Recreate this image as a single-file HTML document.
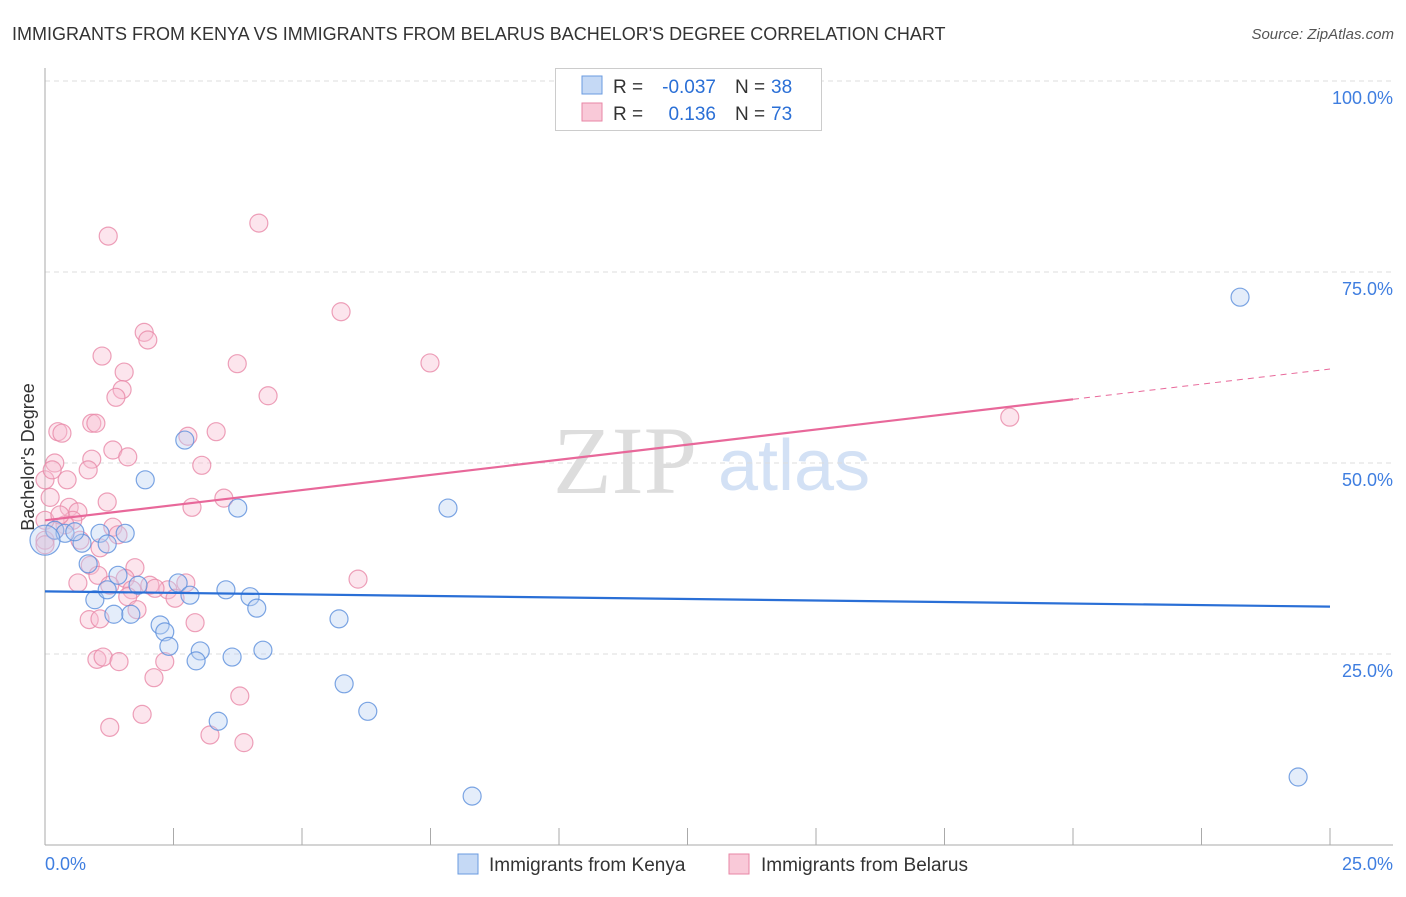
<!DOCTYPE html>
<html><head><meta charset="utf-8"><style>
body{margin:0;background:#fff;font-family:"Liberation Sans",sans-serif}
svg text{font-family:"Liberation Sans",sans-serif}
</style></head><body>
<svg id="c" width="1406" height="892">
<text x="12" y="40" font-size="18" fill="#333">IMMIGRANTS FROM KENYA VS IMMIGRANTS FROM BELARUS BACHELOR'S DEGREE CORRELATION CHART</text>
<text x="1394" y="39" font-size="15" fill="#555" font-style="italic" text-anchor="end">Source: ZipAtlas.com</text>
<g>
<text x="553" y="493" font-size="96" fill="#ddd" font-family="Liberation Serif" style="font-family:'Liberation Serif',serif">ZIP</text>
<text x="718" y="490" font-size="72" fill="#d3e1f5">atlas</text>
</g>
<g id="grid"></g>
<g id="axes"></g>
<g id="pts"></g>
<g id="lines"></g>
<text transform="translate(34,457) rotate(-90)" font-size="18" fill="#333" text-anchor="middle">Bachelor's Degree</text>
<g>
<rect x="555.5" y="68.5" width="266" height="62" fill="#fff" stroke="#ccc"/>
<rect x="582" y="76" width="20" height="18" fill="#c5d9f5" stroke="#6a9be0"/>
<rect x="582" y="103" width="20" height="18" fill="#f9c9d8" stroke="#e886a6"/>
<text x="613" y="93" font-size="19" fill="#333">R =</text>
<text x="716" y="93" font-size="19" fill="#2a6fd6" text-anchor="end">-0.037</text>
<text x="735" y="93" font-size="19" fill="#333">N =</text>
<text x="771" y="93" font-size="19" fill="#2a6fd6">38</text>
<text x="613" y="120" font-size="19" fill="#333">R =</text>
<text x="716" y="120" font-size="19" fill="#2a6fd6" text-anchor="end">0.136</text>
<text x="735" y="120" font-size="19" fill="#333">N =</text>
<text x="771" y="120" font-size="19" fill="#2a6fd6">73</text>
</g>
<g>
<rect x="458" y="854" width="20" height="20" fill="#c5d9f5" stroke="#6a9be0"/>
<text x="489" y="871" font-size="19" fill="#333">Immigrants from Kenya</text>
<rect x="729" y="854" width="20" height="20" fill="#f9c9d8" stroke="#e886a6"/>
<text x="761" y="871" font-size="19" fill="#333">Immigrants from Belarus</text>
</g>
</svg>
<script>
const xTickLabels=["0.0%","25.0%"];
const yTicks=[25,50,75,100];
const yTickLabels=["25.0%","50.0%","75.0%","100.0%"];
const kenyaX=[23.25,24.38,8.31,7.84,2.72,1.95,3.75,0.19,0.39,0.72,1.07,1.56,1.21,0.84,1.42,0.97,1.21,1.81,1.34,1.67,2.24,2.33,2.41,2.59,2.82,3.52,3.99,4.12,3.02,2.94,3.64,4.24,5.72,5.82,6.28,3.37,0.0,0.58];
const kenyaY=[71.7,8.9,6.4,44.1,53.0,47.8,44.1,41.2,40.8,39.5,40.8,40.8,39.4,36.8,35.3,32.1,33.4,34.0,30.2,30.2,28.8,27.9,26.0,34.3,32.7,33.4,32.5,31.0,25.4,24.1,24.6,25.5,29.6,21.1,17.5,16.2,39.9,41.0];
const belarusX=[1.23,4.16,5.76,7.49,3.74,1.93,2.00,1.11,1.54,1.50,1.38,4.34,18.77,0.25,0.33,0.91,0.99,3.33,2.78,1.32,1.61,0.91,3.05,0.19,0.84,0.43,0.10,1.21,3.48,2.86,0.47,0.64,0.54,0.39,1.32,1.42,0.19,0.0,1.07,0.88,1.75,1.56,0.64,1.03,2.04,2.39,2.74,1.69,2.14,1.61,2.53,1.79,0.86,1.07,2.92,6.09,1.01,1.13,1.44,2.33,2.12,3.79,1.89,1.26,3.21,3.87,0.0,0.0,0.14,0.68,1.26,0.0,0.29];
const belarusY=[79.7,81.4,69.8,63.1,63.0,67.1,66.1,64.0,61.9,59.6,58.6,58.8,56.0,54.1,53.9,55.2,55.2,54.1,53.5,51.7,50.8,50.5,49.7,50.0,49.1,47.8,45.5,44.9,45.4,44.2,44.2,43.6,42.5,41.9,41.6,40.6,41.2,39.9,38.9,36.6,36.3,34.9,34.3,35.3,34.0,33.4,34.3,33.4,33.6,32.5,32.3,30.8,29.5,29.6,29.1,34.8,24.3,24.6,24.0,24.0,21.9,19.5,17.1,15.4,14.4,13.4,42.5,47.8,49.1,39.9,34.0,39.3,43.2];
const kenyaTrend=[33.2,31.2];
const belarusTrend=[42.5,62.3];
const belarusSolidEnd=20;
const X0=45,X1=1330,Y0=845,Y100=81;
const sx=v=>X0+(v/25)*(X1-X0);
const sy=v=>Y0-(v/100)*(Y0-Y100);
const NS="http://www.w3.org/2000/svg";
function mk(t,a,p){const e=document.createElementNS(NS,t);for(const k in a)e.setAttribute(k,a[k]);p.appendChild(e);return e;}
const grid=document.getElementById('grid'),axes=document.getElementById('axes'),pts=document.getElementById('pts'),lines=document.getElementById('lines');
yTicks.forEach((t,i)=>{
 const g=mk('line',{x1:X0,x2:1393,y1:sy(t),y2:sy(t),stroke:'#ddd','stroke-dasharray':'5,4'},grid);
 
 
 const l=mk('text',{x:1393,y:sy(t)+23,'font-size':18,fill:'#3f7ee0','text-anchor':'end'},axes);
 l.textContent=yTickLabels[i];
 
 
});
const ax=mk('line',{x1:X0,x2:X0,y1:68,y2:Y0,stroke:'#aaa'},axes);


const bx=mk('line',{x1:X0,x2:1393,y1:Y0,y2:Y0,stroke:'#aaa'},axes);


for(let i=1;i<=10;i++){
 const t=mk('line',{x1:sx(i*2.5),x2:sx(i*2.5),y1:828,y2:Y0,stroke:'#aaa'},axes);
 
 
}
const xl0=mk('text',{x:45,y:870,'font-size':18,fill:'#3f7ee0'},axes);xl0.textContent=xTickLabels[0];


const xl1=mk('text',{x:1393,y:870,'font-size':18,fill:'#3f7ee0','text-anchor':'end'},axes);xl1.textContent=xTickLabels[1];


function dots(X,Y,fill,stroke,name){
 X.forEach((x,i)=>{
  const big=(name==='kenya-point'&&x===0);
  const c=mk('circle',{cx:sx(x),cy:sy(Y[i]),r:big?15:9,fill:fill,'fill-opacity':0.4,stroke:stroke,'stroke-opacity':0.8,'stroke-width':1.2},pts);
  
  
 });
}
dots(belarusX,belarusY,'#f7bfd2','#e888a8','belarus-point');
dots(kenyaX,kenyaY,'#bcd3f3','#5b8fdc','kenya-point');
const kl=mk('line',{x1:sx(0),y1:sy(kenyaTrend[0]),x2:sx(25),y2:sy(kenyaTrend[1]),stroke:'#2a6fd6','stroke-width':2.2},lines);


const bmid=belarusTrend[0]+(belarusTrend[1]-belarusTrend[0])*belarusSolidEnd/25;
const bl=mk('line',{x1:sx(0),y1:sy(belarusTrend[0]),x2:sx(belarusSolidEnd),y2:sy(bmid),stroke:'#e8689a','stroke-width':2.2},lines);


const bd=mk('line',{x1:sx(belarusSolidEnd),y1:sy(bmid),x2:sx(25),y2:sy(belarusTrend[1]),stroke:'#e8689a','stroke-width':1,'stroke-dasharray':'6,5'},lines);


</script>
</body></html>
